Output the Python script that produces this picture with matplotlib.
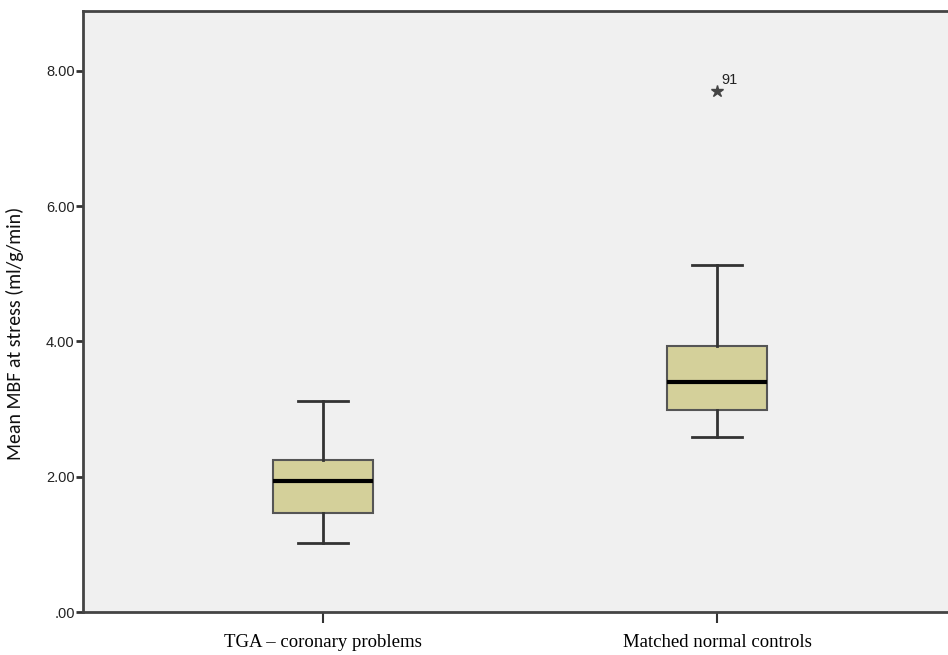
import matplotlib
matplotlib.use("Agg")
import matplotlib.pyplot as plt

# Group labels and box summary statistics (ml/g/min)
groups = ["TGA \u2013 coronary problems", "Matched normal controls"]
whislo = [1.02, 2.58]
q1 = [1.46, 2.98]
med = [1.94, 3.40]
q3 = [2.24, 3.94]
whishi = [3.12, 5.13]
extremes = [[], [7.70]]
extreme_ids = [[], ["91"]]

yticks = [0, 2, 4, 6, 8]
ytick_labels = [".00", "2.00", "4.00", "6.00", "8.00"]

W, H = 948, 655
fig = plt.figure(figsize=(W / 100, H / 100), dpi=100)
fig.patch.set_facecolor("white")
left, right, bottom, top = 83, 957, 612, 10.7
ax = fig.add_axes([left / W, (H - bottom) / H, (right - left) / W, (bottom - top) / H])
ax.set_facecolor("#F0F0F0")

stats = []
for i in range(len(groups)):
    stats.append(dict(whislo=whislo[i], q1=q1[i], med=med[i], q3=q3[i],
                      whishi=whishi[i], fliers=extremes[i]))

positions = [1, 2]
ax.bxp(stats, positions=positions, widths=0.253, patch_artist=True,
       showfliers=True,
       boxprops=dict(facecolor="#D4D09A", edgecolor="#555555", linewidth=1.5),
       medianprops=dict(color="black", linewidth=3),
       whiskerprops=dict(color="#333333", linewidth=2),
       capprops=dict(color="#333333", linewidth=2),
       capwidths=0.127,
       flierprops=dict(marker="*", markersize=9, markerfacecolor="#444444",
                       markeredgecolor="#444444", linestyle="none"))

for pos, vals, ids in zip(positions, extremes, extreme_ids):
    for v, lab in zip(vals, ids):
        ax.annotate(lab, (pos, v), xytext=(3, 5), textcoords="offset points",
                    fontsize=10.5, family="Liberation Sans", color="#222222")

ax.set_xlim(0.392, 2.608)
ax.set_ylim(0, 8.89)
ax.set_xticks(positions)
ax.set_xticklabels(groups, family="Liberation Serif", fontsize=13.5)
ax.set_yticks(yticks)
ax.set_yticklabels(ytick_labels, family="Liberation Sans", fontsize=10.5, color="#222222")
ax.tick_params(axis="y", length=5, width=2, color="#333333", pad=1)
ax.tick_params(axis="x", length=8, width=1.5, color="#333333", pad=8)

fig.text(15 / W, 1 - 333 / H, "Mean MBF at stress (ml/g/min)", family="Carlito",
         fontsize=14.3, rotation=90, ha="center", va="center", color="#111111")

for side in ["left", "bottom", "top"]:
    ax.spines[side].set_color("#444444")
    ax.spines[side].set_linewidth(2)
ax.spines["right"].set_visible(False)

fig.savefig("out.png", dpi=100)
